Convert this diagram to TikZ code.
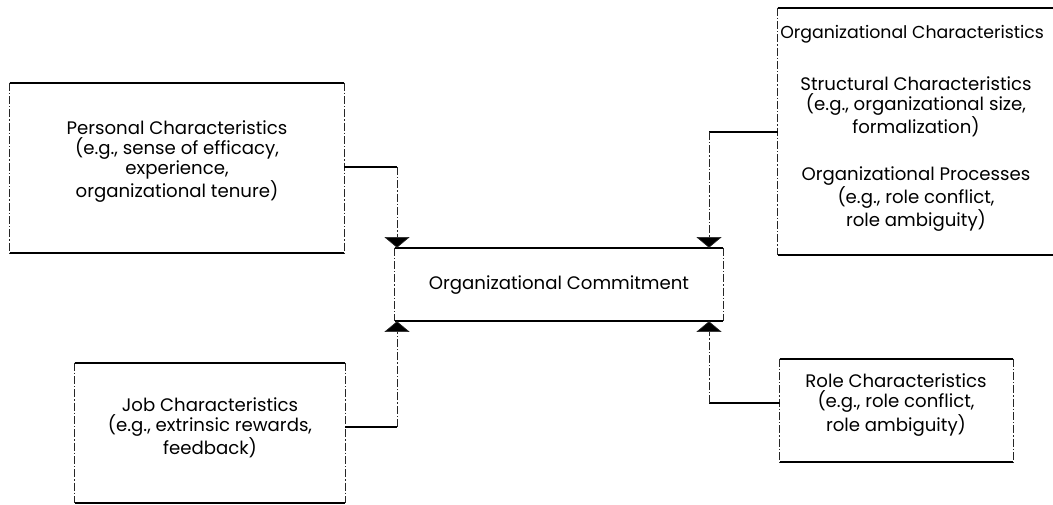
\documentclass[tikz,border=0pt]{standalone}
\usepackage{fontspec}
\setmainfont{Poppins}
\usetikzlibrary{arrows.meta}

\tikzset{
  x=0.75pt, y=-0.75pt,
  frame/.style={draw=none, fill=none, inner sep=0pt},
  hline/.style={line width=1.3pt, black},
  vline/.style={line width=0.55pt, black!85, dash pattern=on 6pt off 1.5pt on 1pt off 1.5pt},
  hconn/.style={line width=1pt, black},
  vconn/.style={line width=0.55pt, black!85, dash pattern=on 6pt off 1.5pt on 1pt off 1.5pt,
                -{Triangle[width=19pt, length=8pt, fill=black, line width=0.5pt]}},
  label/.style={align=center, inner sep=0pt, font=\fontsize{13.6}{15}\selectfont},
}

% draw a box whose horizontal sides are solid and vertical sides are broken
\newcommand{\edgebox}[1]{%
  \draw[hline] (#1.north west) -- (#1.north east);
  \draw[hline] (#1.south west) -- (#1.south east);
  \draw[vline] (#1.north west) -- (#1.south west);
  \draw[vline] (#1.north east) -- (#1.south east);
}

\begin{document}
\begin{tikzpicture}
\useasboundingbox (0,0) rectangle (1053,505);

% box outlines
\node[frame, minimum width=334*0.75pt, minimum height=170*0.75pt] (pers) at (177,168) {};
\node[frame, minimum width=270*0.75pt, minimum height=140*0.75pt] (job)  at (210,433) {};
\node[frame, minimum width=328*0.75pt, minimum height=73*0.75pt]  (com)  at (559,284.5) {};
\node[frame, minimum width=290*0.75pt, minimum height=247*0.75pt] (org)  at (923,131.5) {};
\node[frame, minimum width=233*0.75pt, minimum height=103*0.75pt] (role) at (896.5,410.5) {};

\edgebox{pers}
\edgebox{job}
\edgebox{com}
\edgebox{role}
\draw[hline] (org.north west) -- (org.north east);
\draw[hline] (org.south west) -- (org.south east);
\draw[vline] (org.north west) -- (org.south west);

% texts
\node[label] (persT) at (177,162) {Personal Characteristics\\(e.g., sense of efficacy,\\experience,\\organizational tenure)};
\node[label] (jobT) at (210,428) {Job Characteristics\\(e.g., extrinsic rewards,\\feedback)};
\node[label] (comT) at (559,285) {Organizational Commitment};
\node[label, anchor=west, font=\fontsize{13}{15}\selectfont] (orgT) at (780,34) {Organizational Characteristics};
\node[label] (orgS) at (916,107) {Structural Characteristics\\(e.g., organizational size,\\formalization)};
\node[label] (orgP) at (916,199) {Organizational Processes\\(e.g., role conflict,\\role ambiguity)};
\node[label] (roleT) at (896,405) {Role Characteristics\\(e.g., role conflict,\\role ambiguity)};

% connector corners
\coordinate (k1) at (397,167);
\coordinate (k2) at (397,427);
\coordinate (k3) at (709,132);
\coordinate (k4) at (709,403);

% connectors into the commitment box
\draw[hconn] (pers.east |- k1) -- (k1);
\draw[vconn] (k1) -- (k1 |- com.north);
\draw[hconn] (job.east |- k2) -- (k2);
\draw[vconn] (k2) -- (k2 |- com.south);
\draw[hconn] (org.west |- k3) -- (k3);
\draw[vconn] (k3) -- (k3 |- com.north);
\draw[hconn] (role.west |- k4) -- (k4);
\draw[vconn] (k4) -- (k4 |- com.south);
\end{tikzpicture}
\end{document}
